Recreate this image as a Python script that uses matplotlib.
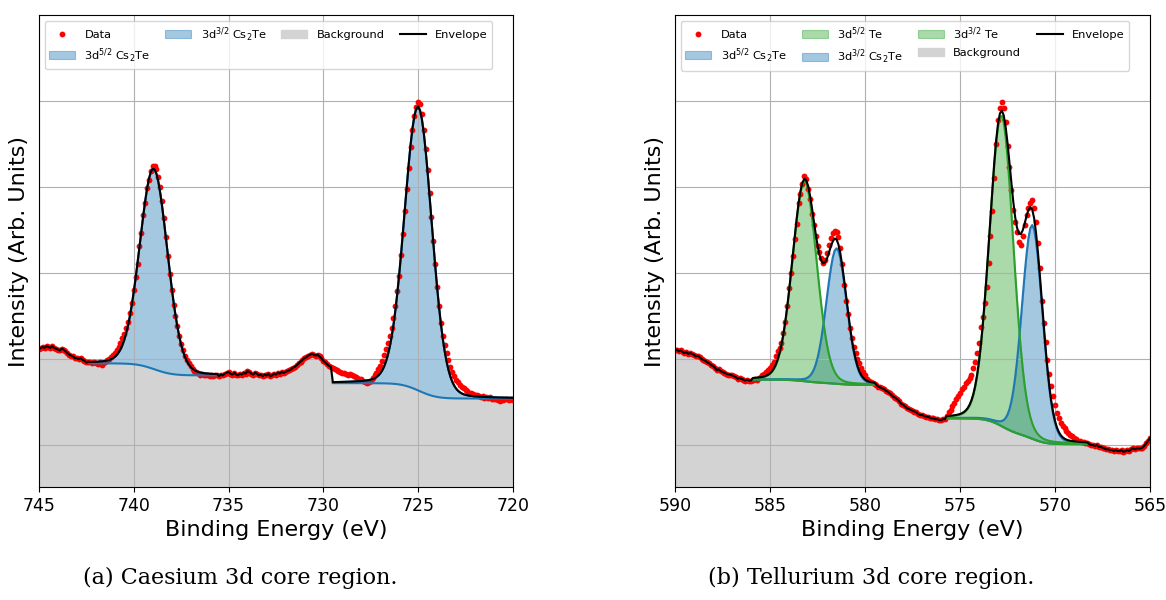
import numpy as np
import matplotlib.pyplot as plt

# binding energy grids, 0.1 eV steps from high to low BE
cs_energy = np.linspace(745.0, 720.0, 251)
te_energy = np.linspace(590.0, 565.0, 251)

# measured intensity (arb. units), one row per eV
cs_counts = [
    2.12, 2.13, 2.14, 2.13, 2.15, 2.14, 2.13, 2.15, 2.13, 2.12,
    2.11, 2.10, 2.12, 2.11, 2.09, 2.07, 2.05, 2.04, 2.03, 2.01,
    2.01, 2.00, 2.01, 1.99, 1.98, 1.96, 1.97, 1.96, 1.95, 1.96,
    1.95, 1.94, 1.96, 1.93, 1.95, 1.97, 1.99, 2.00, 2.02, 2.05,
    2.07, 2.10, 2.14, 2.19, 2.24, 2.29, 2.36, 2.43, 2.53, 2.65,
    2.80, 2.95, 3.10, 3.31, 3.47, 3.68, 3.82, 3.99, 4.08, 4.19,
    4.24, 4.25, 4.21, 4.12, 4.00, 3.84, 3.64, 3.42, 3.20, 2.99,
    2.80, 2.63, 2.50, 2.38, 2.27, 2.17, 2.10, 2.04, 1.99, 1.95,
    1.92, 1.88, 1.86, 1.85, 1.84, 1.82, 1.83, 1.81, 1.82, 1.81,
    1.80, 1.81, 1.80, 1.82, 1.81, 1.80, 1.82, 1.81, 1.83, 1.84,
    1.85, 1.83, 1.82, 1.84, 1.82, 1.81, 1.83, 1.82, 1.84, 1.83,
    1.86, 1.85, 1.83, 1.82, 1.84, 1.83, 1.81, 1.82, 1.80, 1.82,
    1.81, 1.83, 1.80, 1.81, 1.83, 1.82, 1.84, 1.83, 1.85, 1.84,
    1.85, 1.86, 1.87, 1.88, 1.90, 1.91, 1.93, 1.95, 1.97, 1.99,
    2.01, 2.02, 2.04, 2.05, 2.06, 2.05, 2.04, 2.05, 2.03, 2.01,
    1.98, 1.96, 1.94, 1.92, 1.91, 1.89, 1.88, 1.87, 1.86, 1.85,
    1.84, 1.84, 1.83, 1.82, 1.83, 1.81, 1.80, 1.79, 1.78, 1.77,
    1.77, 1.75, 1.73, 1.72, 1.73, 1.75, 1.78, 1.81, 1.84, 1.88,
    1.92, 1.98, 2.05, 2.12, 2.19, 2.27, 2.36, 2.48, 2.62, 2.79,
    2.97, 3.21, 3.45, 3.72, 3.98, 4.22, 4.47, 4.66, 4.83, 4.93,
    4.99, 4.97, 4.85, 4.66, 4.44, 4.20, 3.93, 3.65, 3.37, 3.10,
    2.84, 2.62, 2.42, 2.27, 2.16, 2.07, 1.99, 1.91, 1.85, 1.80,
    1.76, 1.73, 1.70, 1.68, 1.66, 1.64, 1.63, 1.61, 1.60, 1.59,
    1.58, 1.58, 1.57, 1.56, 1.57, 1.55, 1.56, 1.55, 1.56, 1.54,
    1.54, 1.53, 1.52, 1.51, 1.53, 1.52, 1.53, 1.54, 1.52, 1.53,
    1.52,
]

te_counts = [
    2.10, 2.11, 2.09, 2.10, 2.08, 2.07, 2.08, 2.06, 2.07, 2.06,
    2.05, 2.03, 2.04, 2.02, 2.00, 1.99, 1.98, 1.96, 1.95, 1.93,
    1.92, 1.90, 1.87, 1.88, 1.86, 1.85, 1.84, 1.83, 1.82, 1.82,
    1.81, 1.80, 1.79, 1.77, 1.78, 1.77, 1.76, 1.75, 1.76, 1.75,
    1.75, 1.76, 1.77, 1.76, 1.78, 1.79, 1.81, 1.83, 1.85, 1.87,
    1.90, 1.93, 1.97, 2.03, 2.09, 2.13, 2.19, 2.30, 2.43, 2.62,
    2.83, 3.00, 3.20, 3.39, 3.57, 3.81, 3.92, 4.03, 4.13, 4.09,
    3.98, 3.86, 3.69, 3.56, 3.43, 3.32, 3.24, 3.17, 3.12, 3.15,
    3.23, 3.33, 3.41, 3.46, 3.49, 3.48, 3.42, 3.29, 3.10, 2.86,
    2.68, 2.52, 2.36, 2.24, 2.14, 2.07, 2.00, 1.95, 1.90, 1.85,
    1.81, 1.77, 1.75, 1.73, 1.72, 1.71, 1.70, 1.68, 1.67, 1.66,
    1.65, 1.63, 1.62, 1.60, 1.58, 1.56, 1.55, 1.53, 1.51, 1.48,
    1.47, 1.45, 1.43, 1.42, 1.41, 1.40, 1.39, 1.38, 1.36, 1.35,
    1.35, 1.34, 1.33, 1.33, 1.32, 1.31, 1.31, 1.30, 1.30, 1.29,
    1.29, 1.30, 1.30, 1.34, 1.38, 1.41, 1.45, 1.49, 1.53, 1.57,
    1.61, 1.65, 1.68, 1.72, 1.75, 1.78, 1.82, 1.89, 1.97, 2.07,
    2.19, 2.37, 2.49, 2.65, 2.84, 3.12, 3.43, 3.72, 4.10, 4.50,
    4.78, 4.92, 4.99, 4.92, 4.76, 4.48, 4.23, 3.97, 3.73, 3.59,
    3.48, 3.36, 3.33, 3.43, 3.56, 3.67, 3.76, 3.82, 3.85, 3.76,
    3.59, 3.35, 3.06, 2.67, 2.42, 2.20, 1.99, 1.83, 1.69, 1.57,
    1.46, 1.37, 1.31, 1.26, 1.22, 1.20, 1.16, 1.14, 1.12, 1.10,
    1.08, 1.07, 1.05, 1.05, 1.04, 1.03, 1.02, 1.02, 1.01, 1.00,
    1.00, 0.99, 1.00, 0.98, 0.98, 0.97, 0.96, 0.95, 0.95, 0.94,
    0.94, 0.93, 0.94, 0.93, 0.93, 0.94, 0.92, 0.93, 0.94, 0.93,
    0.95, 0.96, 0.95, 0.96, 0.96, 0.96, 0.97, 0.99, 1.02, 1.05,
    1.08,
]

# fitted peaks for Cs 3d
cs_centres = [725.0, 738.95]
cs_fwhm = [1.70, 1.72]
cs_heights = [3.30, 2.33]
cs_labels = [r'3d$^{5/2}$ Cs$_2$Te', r'3d$^{3/2}$ Cs$_2$Te']
cs_colours = ['C0', 'C0']
cs_peak_window = [1, 0]
# fit windows (high BE edge, low BE edge) and Shirley end levels
cs_windows = [(742.3, 735.6), (729.5, 720.0)]
cs_bg_levels = [(1.95, 1.81), (1.72, 1.54)]

# fitted peaks for Te 3d
te_centres = [571.2, 572.82, 581.5, 583.18]
te_fwhm = [1.27, 1.48, 1.25, 1.50]
te_heights = [2.485, 3.61, 1.575, 2.325]
te_labels = [r'3d$^{5/2}$ Cs$_2$Te', r'3d$^{5/2}$ Te',
             r'3d$^{3/2}$ Cs$_2$Te', r'3d$^{3/2}$ Te']
te_colours = ['C0', 'C2', 'C0', 'C2']
te_peak_window = [1, 1, 0, 0]
te_windows = [(585.9, 579.5), (575.7, 568.3)]
te_bg_levels = [(1.76, 1.70), (1.31, 1.01)]


def pseudo_voigt(x, centre, fwhm, height, eta=0.1):
    d = (x - centre) / fwhm
    return height * ((1 - eta) * np.exp(-4 * np.log(2) * d ** 2) + eta / (1 + 4 * d ** 2))


def window_mask(energy, win):
    return (energy <= win[0] + 1e-6) & (energy >= win[1] - 1e-6)


def build_fit(energy, counts, centres, fwhms, heights, peak_window, windows, levels):
    # background follows the data outside the fit windows, Shirley inside them
    background = np.array(counts, dtype=float)
    peaks = []
    for c, w, h, k in zip(centres, fwhms, heights, peak_window):
        m = window_mask(energy, windows[k])
        peaks.append(np.where(m, pseudo_voigt(energy, c, w, h), 0.0))
    for k, (win, (hi, lo)) in enumerate(zip(windows, levels)):
        m = window_mask(energy, win)
        total = sum(p for p, pk in zip(peaks, peak_window) if pk == k)[m]
        cum = np.cumsum(total[::-1])[::-1]
        background[m] = lo + (hi - lo) * cum / cum[0]
    envelope = background + sum(peaks)
    return background, peaks, envelope


def draw_panel(ax, energy, counts, centres, fwhms, heights, labels, colours,
               peak_window, windows, levels, xlim):
    bg, peaks, env = build_fit(energy, counts, centres, fwhms, heights,
                               peak_window, windows, levels)
    handles = []
    h, = ax.plot(energy, counts, 'o', color='red', ms=4.2, mew=0, label='Data')
    handles.append(h)
    for p, lab, col, k in zip(peaks, labels, colours, peak_window):
        m = window_mask(energy, windows[k])
        h = ax.fill_between(energy[m], bg[m], bg[m] + p[m], color=col, alpha=0.4,
                            lw=0.8, label=lab)
        ax.plot(energy[m], bg[m] + p[m], color=col, lw=1.5)
        ax.plot(energy[m], bg[m], color=col, lw=1.5)
        handles.append(h)
    h = ax.fill_between(energy, 0, bg, color='lightgrey', label='Background')
    handles.append(h)
    h, = ax.plot(energy, env, 'k-', lw=1.5, label='Envelope')
    handles.append(h)

    ax.set_xlim(*xlim)
    ax.set_ylim(0.512, 6.0)
    ax.set_xticks(np.arange(xlim[0], xlim[1] - 1, -5))
    ax.set_yticks([1, 2, 3, 4, 5])
    ax.set_yticklabels([])
    ax.tick_params(axis='y', length=0)
    ax.tick_params(axis='x', labelsize=12.5)
    ax.grid(True)
    ax.set_xlabel('Binding Energy (eV)', fontsize=16)
    ax.set_ylabel('Intensity (Arb. Units)', fontsize=16)
    ax.legend(handles=handles, ncol=4, loc='upper left', mode='expand',
              bbox_to_anchor=(0.0, 0.0, 0.968, 1.0), fontsize=8.2,
              handlelength=2.3)


fig = plt.figure(figsize=(11.66, 6.0), dpi=100)
ax1 = fig.add_axes([0.0334, 0.1883, 0.4065, 0.7867])
ax2 = fig.add_axes([0.5789, 0.1883, 0.4074, 0.7867])

draw_panel(ax1, cs_energy, cs_counts, cs_centres, cs_fwhm, cs_heights, cs_labels,
           cs_colours, cs_peak_window, cs_windows, cs_bg_levels, (745, 720))
draw_panel(ax2, te_energy, te_counts, te_centres, te_fwhm, te_heights, te_labels,
           te_colours, te_peak_window, te_windows, te_bg_levels, (590, 565))

fig.text(0.206, 0.027, '(a) Caesium 3d core region.', ha='center', va='baseline',
         family='DejaVu Serif', fontsize=16)
fig.text(0.747, 0.027, '(b) Tellurium 3d core region.', ha='center', va='baseline',
         family='DejaVu Serif', fontsize=16)

fig.savefig('out.png', dpi=100)
